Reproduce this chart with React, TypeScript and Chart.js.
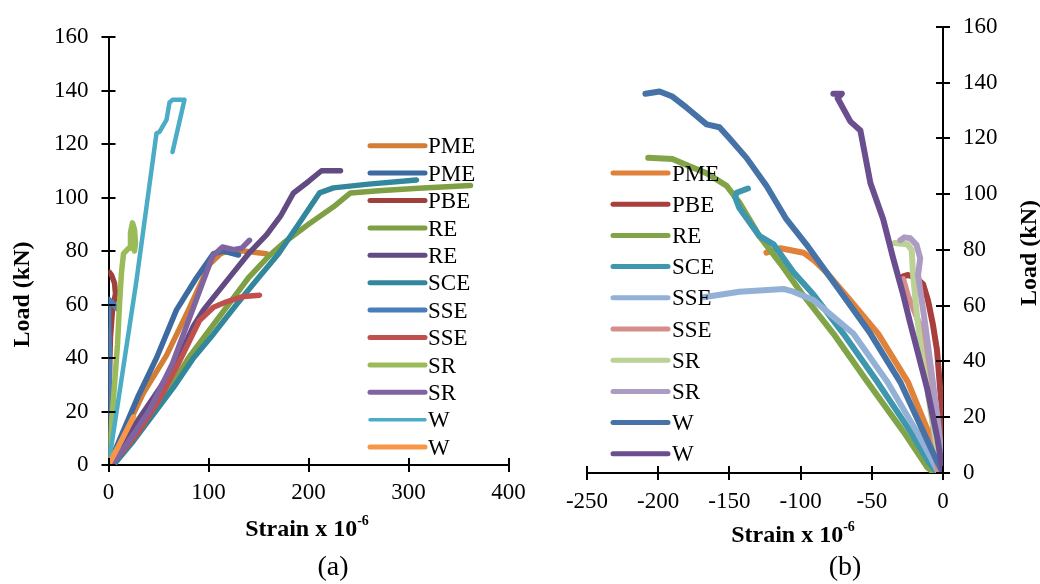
import React, { useEffect, useRef } from "react";
import { Chart, registerables } from "chart.js";

Chart.register(...registerables);

const SERIF = "'Liberation Serif', 'Times New Roman', Times, serif";
Chart.defaults.font.family = SERIF;
Chart.defaults.color = "#000";

// ================= Panel (a) =================
const aSeriesLabels = ["PME", "PME", "PBE", "RE", "RE", "SCE", "SSE", "SSE", "SR", "SR", "W", "W"];
const aSeriesColors = ["#D37D35", "#3D6AA0", "#A0403D", "#7F9F45", "#624A82", "#33879C", "#4A7EBB", "#C0504D", "#9BBB59", "#8064A2", "#4BACC6", "#F79646"];
const aXTicks = [0, 100, 200, 300, 400];
const aYTicks = [0, 20, 40, 60, 80, 100, 120, 140, 160];

const aPME1Strain = [0, 12, 35, 58, 80, 101, 112, 120, 135, 158];
const aPME1Load = [0, 9, 27, 41, 58, 75, 79, 80, 80, 79];
const aPME2Strain = [0, 6, 14, 30, 48, 68, 88, 105, 115, 130];
const aPME2Load = [0, 5, 12, 26, 40, 58, 70, 79, 80, 78.5];
const aPBEStrain = [0, 0, 1, 2, 4, 7, 6, 3, 1];
const aPBELoad = [0, 20, 35, 48, 58, 64, 68, 71, 72];
const aRE1Strain = [3, 22, 42, 62, 80, 100, 120, 140, 160, 175, 200, 225, 242, 270, 310, 362];
const aRE1Load = [0, 9, 19, 29, 40, 50, 60, 70, 78, 83, 90, 96.5, 101.7, 102.5, 103.5, 104.5];
const aRE2Strain = [0, 10, 30, 50, 70, 85, 95, 110, 125, 140, 158, 172, 185, 200, 213, 232];
const aRE2Load = [0, 6, 17, 28, 40, 52, 58, 65, 72, 79, 86, 93, 101.7, 106, 110, 110];
const aSCEStrain = [5, 25, 45, 65, 85, 105, 128, 150, 170, 190, 211, 225, 260, 308];
const aSCELoad = [0, 9, 19, 29, 40, 49, 60, 70, 79, 90, 101.7, 103.6, 105, 106.5];
const aSSE1Strain = [0, 1, 1, 0, 0, 10];
const aSSE1Load = [0, 20, 40, 52, 62, 58];
const aSSE2Strain = [0, 12, 31, 50, 70, 91, 105, 118, 135, 151];
const aSSE2Load = [0, 4, 13, 24, 38, 54, 59, 61, 63, 63.5];
const aSR1Strain = [0, 3, 6, 9, 11, 13, 15, 20, 22, 22, 24, 26, 27, 26];
const aSR1Load = [0, 15, 30, 45, 60, 72, 79, 81, 81, 87, 90.5, 88, 83, 80];
const aSR2Strain = [3, 15, 41, 64, 85, 104, 114, 125, 133, 141];
const aSR2Load = [0, 6, 20.5, 38, 59, 78, 81.5, 80.5, 81, 84];
const aW1Strain = [0, 28, 48, 51, 58, 61, 64, 70, 76, 64];
const aW1Load = [0, 69, 124, 124.5, 129, 135.5, 136.5, 136.5, 136.5, 117];
const aW2Strain = [0, 10, 25];
const aW2Load = [0, 7, 18];

const aStrains = [aPME1Strain, aPME2Strain, aPBEStrain, aRE1Strain, aRE2Strain, aSCEStrain, aSSE1Strain, aSSE2Strain, aSR1Strain, aSR2Strain, aW1Strain, aW2Strain];
const aLoads = [aPME1Load, aPME2Load, aPBELoad, aRE1Load, aRE2Load, aSCELoad, aSSE1Load, aSSE2Load, aSR1Load, aSR2Load, aW1Load, aW2Load];

// ================= Panel (b) =================
const bSeriesLabels = ["PME", "PBE", "RE", "SCE", "SSE", "SSE", "SR", "SR", "W", "W"];
const bSeriesColors = ["#E0823A", "#A83F3C", "#82A448", "#3E97AE", "#93B1D6", "#D48E8C", "#BBD195", "#AC9CC3", "#4572A7", "#6B4E8F"];
const bXTicks = [-250, -200, -150, -100, -50, 0];
const bYTicks = [0, 20, 40, 60, 80, 100, 120, 140, 160];

const bPMEStrain = [-124, -114, -98, -90, -82, -67, -45.6, -24.6, -10.5, -4];
const bPMELoad = [79, 80.6, 79, 76, 72, 63, 50, 32.6, 15, 5];
const bPBEStrain = [-28, -24.6, -19, -14, -10.5, -7, -4.2, -2, 0, 0];
const bPBELoad = [70.5, 71, 70, 67.7, 61.8, 53, 44, 30, 18.6, 0];
const bREStrain = [-207, -190, -178, -166, -152, -143, -129, -114, -100, -77, -53, -28, -11, -6];
const bRELoad = [113, 112.6, 110, 107.5, 103, 97, 85, 75, 65, 50, 32.6, 15, 2, 0];
const bSCEStrain = [-137, -145, -146, -143, -129, -119, -105, -91, -70, -46, -23, -10, -4];
const bSCELoad = [102, 100.5, 99, 95, 85, 82, 72, 64, 50, 32.6, 15, 4, 0];
const bSSE1Strain = [-168, -143, -112, -105, -91, -63, -39, -18.6, -8, -3];
const bSSE1Load = [63, 65, 66, 65, 62, 50, 32.6, 15, 5, 0];
const bSSE2Strain = [-28, -24.6, -20, -14.7, -9, -5.6, -3];
const bSSE2Load = [69.5, 63.5, 58, 51, 30, 7, 0];
const bSR1Strain = [-34, -25, -22, -21, -18, -14, -8, -3, 0];
const bSR1Load = [82.5, 82, 80, 71, 55, 40, 20, 6, 0];
const bSR2Strain = [-30, -27, -23, -18.6, -16, -17.5, -12.6, -8, -3.5, 0];
const bSR2Load = [83.5, 84.5, 84.2, 81.8, 77, 71, 53.7, 36, 18.6, 0];
const bW1Strain = [-209, -199, -190, -180, -166, -157, -150, -138, -124, -110, -96, -72, -51, -30, -14, -5, 0];
const bW1Load = [136, 136.8, 135, 131, 125, 124, 120, 113, 103, 91, 82, 65, 50, 32.6, 15, 5, 0];
const bW2Strain = [-77, -71, -74, -65, -58, -51, -42, -35, -28, -23, -11, -4, 0];
const bW2Load = [136, 136, 134.4, 126, 122.8, 104, 91, 77, 64, 53.7, 30, 12.6, 0];

const bStrains = [bPMEStrain, bPBEStrain, bREStrain, bSCEStrain, bSSE1Strain, bSSE2Strain, bSR1Strain, bSR2Strain, bW1Strain, bW2Strain];
const bLoads = [bPMELoad, bPBELoad, bRELoad, bSCELoad, bSSE1Load, bSSE2Load, bSR1Load, bSR2Load, bW1Load, bW2Load];

const Y_TITLE = "Load (kN)";
const X_TITLE = "Strain x 10";
const X_TITLE_SUP = "-6";

// ================= layout specs (positions/styles only) =================
type Spec = {
  labels: string[]; colors: string[]; strains: number[][]; loads: number[][];
  xTicks: number[]; yTicks: number[]; yRight: boolean;
  canvasW: number; pad: { left: number; top: number; right: number; bottom: number };
  xH: number; yW: number; xPad: number; yPad: number;
  lineW: number; thinIdx: number;
  legX: number; legTextX: number; legY: number; legDy: number;
  yTitleX: number; yTitleY: number; xTitleX: number; xTitleY: number;
  caption: string; capX: number; capY: number;
};

const specA: Spec = {
  labels: aSeriesLabels, colors: aSeriesColors, strains: aStrains, loads: aLoads,
  xTicks: aXTicks, yTicks: aYTicks, yRight: false,
  canvasW: 540, pad: { left: 0, top: 37, right: 31.5, bottom: 0 },
  xH: 119, yW: 108.5, xPad: 7, yPad: 13,
  lineW: 5.5, thinIdx: 10,
  legX: 370, legTextX: 428, legY: 145.7, legDy: 27.4,
  yTitleX: 28.5, yTitleY: 294.5, xTitleX: 307, xTitleY: 536,
  caption: "(a)", capX: 333, capY: 575,
};

const specB: Spec = {
  labels: bSeriesLabels, colors: bSeriesColors, strains: bStrains, loads: bLoads,
  xTicks: bXTicks, yTicks: bYTicks, yRight: true,
  canvasW: 505, pad: { left: 52, top: 17, right: 0, bottom: 0 },
  xH: 111, yW: 97, xPad: 8, yPad: 13,
  lineW: 6, thinIdx: -1,
  legX: 78, legTextX: 137, legY: 173, legDy: 31.2,
  yTitleX: 501, yTitleY: 253, xTitleX: 258, xTitleY: 541.5,
  caption: "(b)", capX: 310, capY: 575,
};

const decorPlugin = {
  id: "decor",
  afterDraw(chart: any, _args: any, o: any) {
    const s: Spec = o.spec;
    const ctx = chart.ctx;
    const ca = chart.chartArea;
    const xs = chart.scales.x;
    const ys = chart.scales.y;
    ctx.save();
    // inner halves of the crossing tick marks
    ctx.strokeStyle = "#000";
    ctx.lineWidth = 2;
    ctx.lineCap = "butt";
    ctx.beginPath();
    for (const t of xs.ticks) {
      const px = Math.round(xs.getPixelForValue(t.value));
      ctx.moveTo(px, ca.bottom);
      ctx.lineTo(px, ca.bottom - 7);
    }
    for (const t of ys.ticks) {
      const py = Math.round(ys.getPixelForValue(t.value));
      if (s.yRight) {
        ctx.moveTo(ca.right, py);
        ctx.lineTo(ca.right - 7, py);
      } else {
        ctx.moveTo(ca.left, py);
        ctx.lineTo(ca.left + 7, py);
      }
    }
    ctx.stroke();

    // legend
    ctx.font = `23px ${SERIF}`;
    ctx.textAlign = "left";
    ctx.textBaseline = "alphabetic";
    s.labels.forEach((lab, i) => {
      const y = s.legY + i * s.legDy;
      ctx.strokeStyle = s.colors[i];
      ctx.lineWidth = i === s.thinIdx ? 3.5 : 5;
      ctx.lineCap = "round";
      ctx.beginPath();
      ctx.moveTo(s.legX, y);
      ctx.lineTo(s.legX + 55, y);
      ctx.stroke();
      ctx.fillStyle = "#000";
      ctx.fillText(lab, s.legTextX, y + 7.6);
    });

    // y title
    ctx.save();
    ctx.translate(s.yTitleX, s.yTitleY);
    ctx.rotate(-Math.PI / 2);
    ctx.font = `bold 24px ${SERIF}`;
    ctx.textAlign = "center";
    ctx.textBaseline = "alphabetic";
    ctx.fillStyle = "#000";
    ctx.fillText(Y_TITLE, 0, 0);
    ctx.restore();

    // x title with superscript
    ctx.fillStyle = "#000";
    ctx.textAlign = "left";
    ctx.font = `bold 24px ${SERIF}`;
    const w1 = ctx.measureText(X_TITLE).width;
    ctx.font = `bold 14px ${SERIF}`;
    const w2 = ctx.measureText(X_TITLE_SUP).width;
    const x0 = s.xTitleX - (w1 + w2) / 2;
    ctx.font = `bold 24px ${SERIF}`;
    ctx.fillText(X_TITLE, x0, s.xTitleY);
    ctx.font = `bold 14px ${SERIF}`;
    ctx.fillText(X_TITLE_SUP, x0 + w1, s.xTitleY - 11);

    // caption
    ctx.font = `28px ${SERIF}`;
    ctx.textAlign = "center";
    ctx.fillText(s.caption, s.capX, s.capY);
    ctx.restore();
  },
};

function buildConfig(s: Spec): any {
  const n = s.labels.length;
  const datasets = s.labels.map((label, i) => ({
    label,
    data: s.strains[i].map((x, j) => ({ x, y: s.loads[i][j] })),
    showLine: true,
    borderColor: s.colors[i],
    backgroundColor: s.colors[i],
    borderWidth: i === s.thinIdx ? 4.5 : s.lineW,
    borderCapStyle: "round",
    borderJoinStyle: "round",
    pointRadius: 0,
    pointHoverRadius: 0,
    tension: 0,
    fill: false,
    order: n - i,
  }));
  const axisCommon = {
    type: "linear",
    grid: { display: true, drawOnChartArea: false, drawTicks: true, tickLength: 7, color: "#000", lineWidth: 2 },
    border: { display: true, color: "#000", width: 2 },
  };
  return {
    type: "scatter",
    data: { datasets },
    options: {
      animation: false,
      responsive: false,
      maintainAspectRatio: false,
      events: [],
      layout: { padding: s.pad },
      plugins: { legend: { display: false }, tooltip: { enabled: false }, decor: { spec: s } },
      scales: {
        x: {
          ...axisCommon,
          position: "bottom",
          min: s.xTicks[0],
          max: s.xTicks[s.xTicks.length - 1],
          afterBuildTicks: (sc: any) => { sc.ticks = s.xTicks.map((v) => ({ value: v })); },
          afterFit: (sc: any) => { sc.height = s.xH; },
          ticks: { color: "#000", font: { family: SERIF, size: 23 }, padding: s.xPad, maxRotation: 0, autoSkip: false },
        },
        y: {
          ...axisCommon,
          position: s.yRight ? "right" : "left",
          min: s.yTicks[0],
          max: s.yTicks[s.yTicks.length - 1],
          afterBuildTicks: (sc: any) => { sc.ticks = s.yTicks.map((v) => ({ value: v })); },
          afterFit: (sc: any) => { sc.width = s.yW; },
          ticks: { color: "#000", font: { family: SERIF, size: 23 }, padding: s.yPad, autoSkip: false },
        },
      },
    },
    plugins: [decorPlugin],
  };
}

function Panel({ spec, left }: { spec: Spec; left: number }) {
  const ref = useRef<HTMLCanvasElement | null>(null);
  useEffect(() => {
    if (!ref.current) return;
    const chart = new Chart(ref.current, buildConfig(spec));
    return () => chart.destroy();
  }, [spec]);
  return (
    <canvas
      ref={ref}
      width={spec.canvasW}
      height={584}
      style={{ position: "absolute", left, top: 0, width: spec.canvasW, height: 584, display: "block" }}
    />
  );
}

export default function App() {
  return (
    <div style={{ position: "absolute", left: 0, top: 0, width: 1040, height: 584, background: "#fff", overflow: "hidden" }}>
      <Panel spec={specA} left={0} />
      <Panel spec={specB} left={535} />
    </div>
  );
}
